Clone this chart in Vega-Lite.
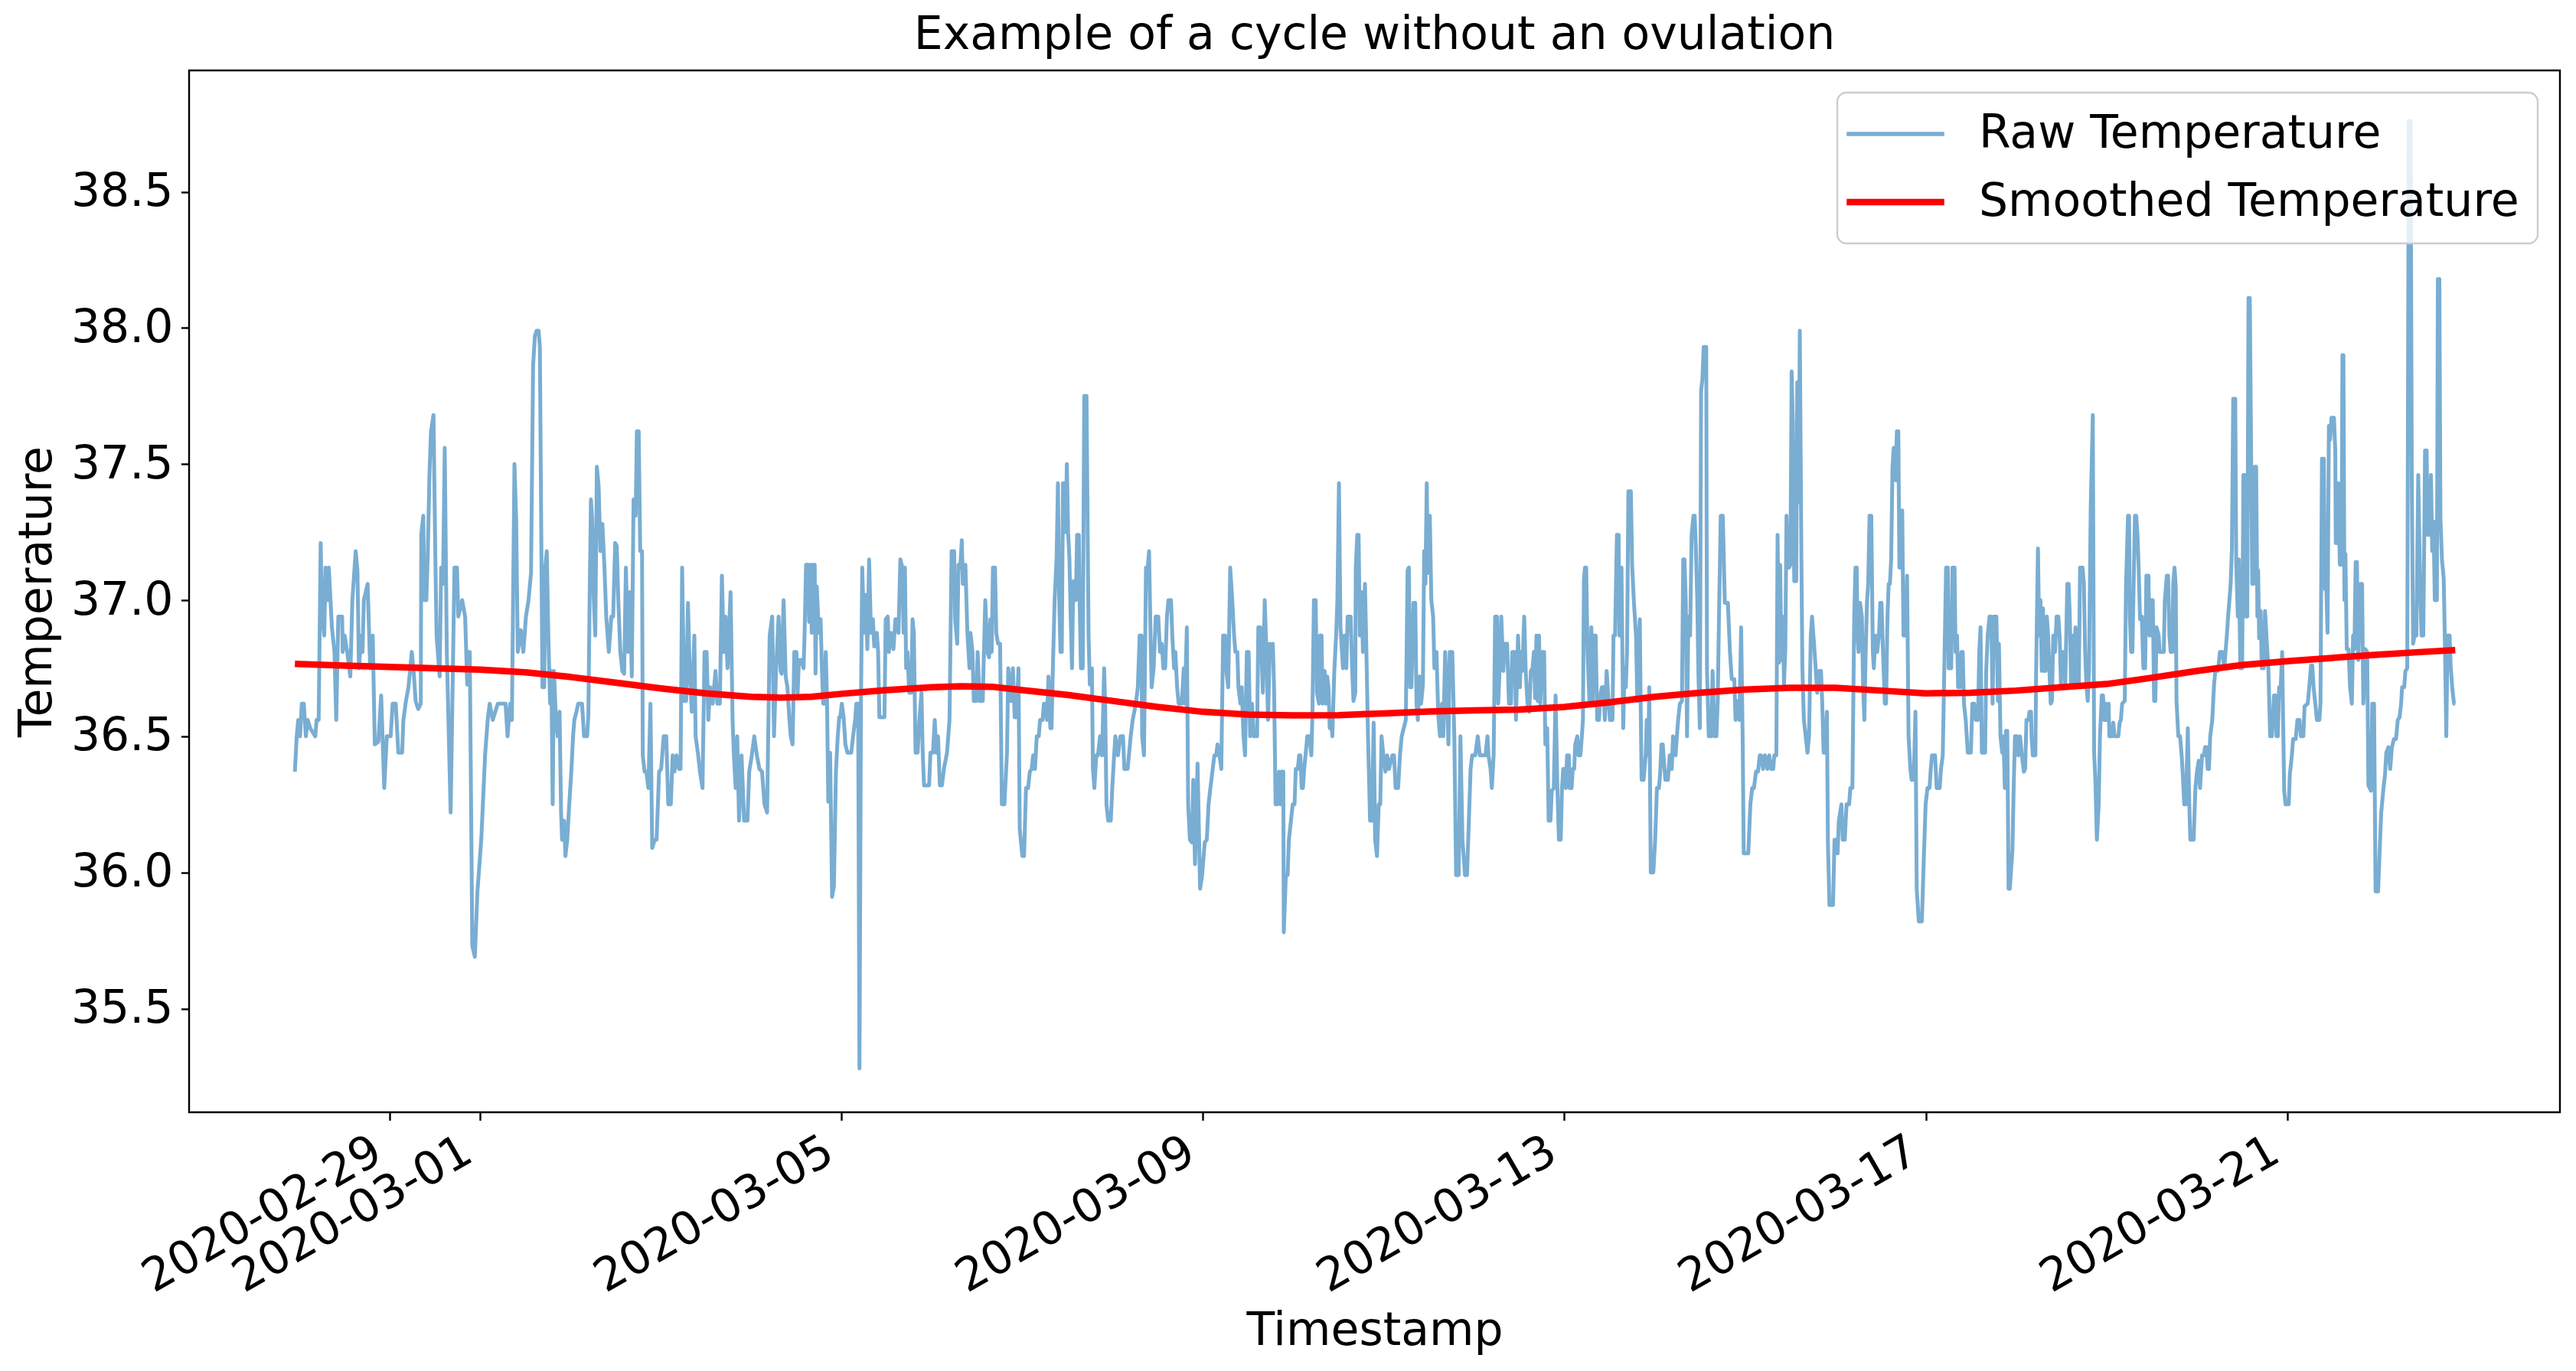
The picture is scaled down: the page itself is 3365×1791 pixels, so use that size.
{
  "$schema": "https://vega.github.io/schema/vega-lite/v6.json",
  "description": "Raw vs smoothed temperature, cycle without ovulation",
  "width": 3097,
  "height": 1361,
  "autosize": {"type": "none"},
  "padding": {"left": 247, "top": 92, "right": 21, "bottom": 338},
  "background": "white",
  "title": {
    "text": "Example of a cycle without an ovulation",
    "fontSize": 60,
    "fontWeight": "normal",
    "font": "DejaVu Sans",
    "color": "black",
    "anchor": "middle",
    "frame": "group",
    "baseline": "alphabetic",
    "offset": 32,
    "dy": 64
  },
  "datasets": {
    "raw": [
      {"t":"2020-02-27T22:52","v":36.37},{"t":"2020-02-27T23:21","v":36.50},{"t":"2020-02-27T23:45","v":36.56},
      {"t":"2020-02-28T00:14","v":36.50},{"t":"2020-02-28T00:42","v":36.62},{"t":"2020-02-28T01:14","v":36.62},
      {"t":"2020-02-28T01:47","v":36.50},{"t":"2020-02-28T02:16","v":36.56},{"t":"2020-02-28T02:56","v":36.53},
      {"t":"2020-02-28T04:17","v":36.50},{"t":"2020-02-28T04:38","v":36.56},{"t":"2020-02-28T05:11","v":36.56},
      {"t":"2020-02-28T05:43","v":37.21},{"t":"2020-02-28T06:08","v":36.94},{"t":"2020-02-28T06:40","v":36.87},
      {"t":"2020-02-28T07:01","v":37.12},{"t":"2020-02-28T07:29","v":37.00},{"t":"2020-02-28T07:53","v":37.12},
      {"t":"2020-02-28T08:42","v":36.90},{"t":"2020-02-28T09:23","v":36.81},{"t":"2020-02-28T09:51","v":36.56},
      {"t":"2020-02-28T10:24","v":36.94},{"t":"2020-02-28T11:25","v":36.94},{"t":"2020-02-28T11:33","v":36.81},
      {"t":"2020-02-28T12:05","v":36.87},{"t":"2020-02-28T12:46","v":36.81},{"t":"2020-02-28T13:35","v":36.72},
      {"t":"2020-02-28T14:08","v":37.00},{"t":"2020-02-28T15:01","v":37.18},{"t":"2020-02-28T15:29","v":37.11},
      {"t":"2020-02-28T15:53","v":36.75},{"t":"2020-02-28T16:30","v":36.87},{"t":"2020-02-28T16:50","v":36.81},
      {"t":"2020-02-28T17:11","v":37.00},{"t":"2020-02-28T18:11","v":37.06},{"t":"2020-02-28T18:52","v":36.75},
      {"t":"2020-02-28T19:33","v":36.87},{"t":"2020-02-28T20:05","v":36.47},{"t":"2020-02-28T21:02","v":36.48},
      {"t":"2020-02-28T21:47","v":36.65},{"t":"2020-02-28T22:36","v":36.31},{"t":"2020-02-28T23:17","v":36.50},
      {"t":"2020-02-29T00:18","v":36.50},{"t":"2020-02-29T00:50","v":36.62},{"t":"2020-02-29T01:39","v":36.62},
      {"t":"2020-02-29T02:20","v":36.44},{"t":"2020-02-29T03:21","v":36.44},{"t":"2020-02-29T03:41","v":36.56},
      {"t":"2020-02-29T04:22","v":36.63},{"t":"2020-02-29T05:02","v":36.68},{"t":"2020-02-29T05:55","v":36.81},
      {"t":"2020-02-29T06:24","v":36.74},{"t":"2020-02-29T06:56","v":36.63},{"t":"2020-02-29T07:37","v":36.60},
      {"t":"2020-02-29T08:18","v":36.62},{"t":"2020-02-29T08:26","v":37.24},{"t":"2020-02-29T08:58","v":37.31},
      {"t":"2020-02-29T09:15","v":37.00},{"t":"2020-02-29T09:47","v":37.00},{"t":"2020-02-29T10:11","v":37.18},
      {"t":"2020-02-29T10:36","v":37.46},{"t":"2020-02-29T11:01","v":37.62},{"t":"2020-02-29T11:41","v":37.68},
      {"t":"2020-02-29T12:10","v":37.16},{"t":"2020-02-29T12:30","v":36.87},{"t":"2020-02-29T13:19","v":36.72},
      {"t":"2020-02-29T13:43","v":37.12},{"t":"2020-02-29T14:12","v":37.06},{"t":"2020-02-29T14:40","v":37.56},
      {"t":"2020-02-29T15:13","v":36.81},{"t":"2020-02-29T16:14","v":36.22},{"t":"2020-02-29T16:34","v":36.51},
      {"t":"2020-02-29T17:15","v":37.12},{"t":"2020-02-29T17:55","v":37.12},{"t":"2020-02-29T18:16","v":36.94},
      {"t":"2020-02-29T19:17","v":37.00},{"t":"2020-02-29T20:05","v":36.94},{"t":"2020-02-29T20:38","v":36.69},
      {"t":"2020-02-29T21:19","v":36.81},{"t":"2020-02-29T21:59","v":35.73},{"t":"2020-02-29T22:40","v":35.69},
      {"t":"2020-02-29T23:21","v":35.93},{"t":"2020-03-01T00:22","v":36.12},{"t":"2020-03-01T01:23","v":36.43},
      {"t":"2020-03-01T02:04","v":36.56},{"t":"2020-03-01T02:36","v":36.62},{"t":"2020-03-01T03:25","v":36.56},
      {"t":"2020-03-01T04:46","v":36.62},{"t":"2020-03-01T06:08","v":36.62},{"t":"2020-03-01T06:49","v":36.62},
      {"t":"2020-03-01T07:21","v":36.50},{"t":"2020-03-01T08:02","v":36.62},{"t":"2020-03-01T08:30","v":36.56},
      {"t":"2020-03-01T09:11","v":37.50},{"t":"2020-03-01T09:39","v":37.29},{"t":"2020-03-01T10:04","v":36.81},
      {"t":"2020-03-01T10:52","v":36.89},{"t":"2020-03-01T11:33","v":36.81},{"t":"2020-03-01T12:14","v":36.94},
      {"t":"2020-03-01T12:55","v":37.00},{"t":"2020-03-01T13:35","v":37.10},{"t":"2020-03-01T14:08","v":37.86},
      {"t":"2020-03-01T14:36","v":37.97},{"t":"2020-03-01T15:04","v":37.99},{"t":"2020-03-01T15:36","v":37.99},
      {"t":"2020-03-01T15:56","v":37.93},{"t":"2020-03-01T16:17","v":37.28},{"t":"2020-03-01T16:37","v":36.68},
      {"t":"2020-03-01T17:05","v":36.68},{"t":"2020-03-01T17:22","v":37.12},{"t":"2020-03-01T17:46","v":37.18},
      {"t":"2020-03-01T18:11","v":36.87},{"t":"2020-03-01T18:39","v":36.62},{"t":"2020-03-01T18:59","v":36.74},
      {"t":"2020-03-01T19:20","v":36.25},{"t":"2020-03-01T19:40","v":36.74},{"t":"2020-03-01T20:13","v":36.56},
      {"t":"2020-03-01T20:41","v":36.50},{"t":"2020-03-01T21:10","v":36.59},{"t":"2020-03-01T21:34","v":36.22},
      {"t":"2020-03-01T21:50","v":36.12},{"t":"2020-03-01T22:23","v":36.19},{"t":"2020-03-01T22:43","v":36.06},
      {"t":"2020-03-01T23:12","v":36.12},{"t":"2020-03-01T23:44","v":36.25},{"t":"2020-03-02T00:17","v":36.37},
      {"t":"2020-03-02T00:45","v":36.50},{"t":"2020-03-02T01:05","v":36.56},{"t":"2020-03-02T01:38","v":36.59},
      {"t":"2020-03-02T02:07","v":36.62},{"t":"2020-03-02T03:08","v":36.62},{"t":"2020-03-02T03:40","v":36.50},
      {"t":"2020-03-02T04:29","v":36.50},{"t":"2020-03-02T04:49","v":36.58},{"t":"2020-03-02T05:10","v":37.03},
      {"t":"2020-03-02T05:30","v":37.37},{"t":"2020-03-02T05:50","v":37.29},{"t":"2020-03-02T06:11","v":37.03},
      {"t":"2020-03-02T06:39","v":36.87},{"t":"2020-03-02T07:04","v":37.49},{"t":"2020-03-02T07:32","v":37.42},
      {"t":"2020-03-02T08:01","v":37.18},{"t":"2020-03-02T08:33","v":37.28},{"t":"2020-03-02T09:05","v":37.12},
      {"t":"2020-03-02T09:34","v":36.94},{"t":"2020-03-02T10:15","v":36.81},{"t":"2020-03-02T10:55","v":36.94},
      {"t":"2020-03-02T11:24","v":36.94},{"t":"2020-03-02T11:56","v":37.21},{"t":"2020-03-02T12:21","v":37.20},
      {"t":"2020-03-02T12:46","v":37.00},{"t":"2020-03-02T13:18","v":36.81},{"t":"2020-03-02T13:50","v":36.74},
      {"t":"2020-03-02T14:19","v":36.73},{"t":"2020-03-02T14:47","v":37.12},{"t":"2020-03-02T15:20","v":36.81},
      {"t":"2020-03-02T15:52","v":37.03},{"t":"2020-03-02T16:21","v":36.72},{"t":"2020-03-02T16:49","v":37.37},
      {"t":"2020-03-02T17:22","v":37.31},{"t":"2020-03-02T17:42","v":37.62},{"t":"2020-03-02T18:11","v":37.62},
      {"t":"2020-03-02T18:35","v":37.18},{"t":"2020-03-02T19:04","v":37.18},{"t":"2020-03-02T19:16","v":36.43},
      {"t":"2020-03-02T19:44","v":36.37},{"t":"2020-03-02T20:13","v":36.37},{"t":"2020-03-02T20:45","v":36.31},
      {"t":"2020-03-02T21:18","v":36.62},{"t":"2020-03-02T21:46","v":36.09},{"t":"2020-03-02T22:27","v":36.12},
      {"t":"2020-03-02T22:56","v":36.12},{"t":"2020-03-02T23:36","v":36.37},{"t":"2020-03-03T00:09","v":36.38},
      {"t":"2020-03-03T00:49","v":36.50},{"t":"2020-03-03T01:30","v":36.50},{"t":"2020-03-03T02:02","v":36.25},
      {"t":"2020-03-03T02:43","v":36.25},{"t":"2020-03-03T03:12","v":36.43},{"t":"2020-03-03T03:40","v":36.37},
      {"t":"2020-03-03T04:13","v":36.43},{"t":"2020-03-03T04:53","v":36.38},{"t":"2020-03-03T05:18","v":36.38},
      {"t":"2020-03-03T05:43","v":37.12},{"t":"2020-03-03T06:15","v":36.63},{"t":"2020-03-03T06:47","v":36.63},
      {"t":"2020-03-03T07:16","v":36.99},{"t":"2020-03-03T07:44","v":36.74},{"t":"2020-03-03T08:17","v":36.59},
      {"t":"2020-03-03T08:58","v":36.87},{"t":"2020-03-03T09:18","v":36.50},{"t":"2020-03-03T09:59","v":36.43},
      {"t":"2020-03-03T10:27","v":36.37},{"t":"2020-03-03T11:08","v":36.31},{"t":"2020-03-03T11:40","v":36.81},
      {"t":"2020-03-03T12:13","v":36.81},{"t":"2020-03-03T12:41","v":36.56},{"t":"2020-03-03T13:10","v":36.68},
      {"t":"2020-03-03T13:50","v":36.62},{"t":"2020-03-03T14:35","v":36.74},{"t":"2020-03-03T15:04","v":36.62},
      {"t":"2020-03-03T15:44","v":36.62},{"t":"2020-03-03T16:17","v":37.09},{"t":"2020-03-03T16:46","v":36.81},
      {"t":"2020-03-03T17:14","v":36.94},{"t":"2020-03-03T17:46","v":36.75},{"t":"2020-03-03T18:35","v":37.03},
      {"t":"2020-03-03T19:08","v":36.55},{"t":"2020-03-03T19:28","v":36.43},{"t":"2020-03-03T19:56","v":36.31},
      {"t":"2020-03-03T20:21","v":36.50},{"t":"2020-03-03T20:50","v":36.19},{"t":"2020-03-03T21:30","v":36.43},
      {"t":"2020-03-03T22:11","v":36.19},{"t":"2020-03-03T23:04","v":36.19},{"t":"2020-03-03T23:32","v":36.37},
      {"t":"2020-03-04T00:13","v":36.43},{"t":"2020-03-04T00:53","v":36.50},{"t":"2020-03-04T01:34","v":36.43},
      {"t":"2020-03-04T02:15","v":36.38},{"t":"2020-03-04T02:56","v":36.37},{"t":"2020-03-04T03:36","v":36.25},
      {"t":"2020-03-04T04:17","v":36.22},{"t":"2020-03-04T04:58","v":36.87},{"t":"2020-03-04T05:38","v":36.94},
      {"t":"2020-03-04T06:07","v":36.50},{"t":"2020-03-04T06:40","v":36.74},{"t":"2020-03-04T07:20","v":36.94},
      {"t":"2020-03-04T07:53","v":36.74},{"t":"2020-03-04T08:08","v":36.73},{"t":"2020-03-04T08:40","v":37.00},
      {"t":"2020-03-04T09:13","v":36.72},{"t":"2020-03-04T09:41","v":36.68},{"t":"2020-03-04T10:10","v":36.57},
      {"t":"2020-03-04T10:34","v":36.50},{"t":"2020-03-04T11:03","v":36.47},{"t":"2020-03-04T11:31","v":36.81},
      {"t":"2020-03-04T12:04","v":36.81},{"t":"2020-03-04T12:24","v":36.66},{"t":"2020-03-04T12:44","v":36.78},
      {"t":"2020-03-04T13:25","v":36.78},{"t":"2020-03-04T13:58","v":36.75},{"t":"2020-03-04T14:14","v":36.87},
      {"t":"2020-03-04T14:38","v":37.13},{"t":"2020-03-04T15:07","v":37.13},{"t":"2020-03-04T15:27","v":36.92},
      {"t":"2020-03-04T15:47","v":37.13},{"t":"2020-03-04T16:08","v":36.88},{"t":"2020-03-04T16:28","v":37.13},
      {"t":"2020-03-04T16:56","v":37.13},{"t":"2020-03-04T17:09","v":36.73},{"t":"2020-03-04T17:29","v":37.05},
      {"t":"2020-03-04T18:02","v":36.88},{"t":"2020-03-04T18:30","v":36.93},{"t":"2020-03-04T18:50","v":36.75},
      {"t":"2020-03-04T19:11","v":36.62},{"t":"2020-03-04T19:31","v":36.62},{"t":"2020-03-04T19:52","v":36.81},
      {"t":"2020-03-04T20:12","v":36.63},{"t":"2020-03-04T20:32","v":36.26},{"t":"2020-03-04T21:01","v":36.44},
      {"t":"2020-03-04T21:33","v":35.91},{"t":"2020-03-04T22:02","v":35.95},{"t":"2020-03-04T22:34","v":36.37},
      {"t":"2020-03-04T23:03","v":36.50},{"t":"2020-03-04T23:27","v":36.57},{"t":"2020-03-04T23:43","v":36.57},
      {"t":"2020-03-05T00:08","v":36.62},{"t":"2020-03-05T00:37","v":36.57},{"t":"2020-03-05T01:05","v":36.47},
      {"t":"2020-03-05T01:37","v":36.44},{"t":"2020-03-05T02:38","v":36.44},{"t":"2020-03-05T03:07","v":36.50},
      {"t":"2020-03-05T03:40","v":36.56},{"t":"2020-03-05T03:59","v":36.62},{"t":"2020-03-05T04:28","v":36.62},
      {"t":"2020-03-05T04:49","v":35.28},{"t":"2020-03-05T05:13","v":36.62},{"t":"2020-03-05T05:33","v":37.12},
      {"t":"2020-03-05T06:02","v":36.88},{"t":"2020-03-05T06:30","v":37.02},{"t":"2020-03-05T06:55","v":36.82},
      {"t":"2020-03-05T07:23","v":37.15},{"t":"2020-03-05T07:52","v":36.88},{"t":"2020-03-05T08:24","v":36.93},
      {"t":"2020-03-05T08:44","v":36.83},{"t":"2020-03-05T09:25","v":36.88},{"t":"2020-03-05T09:46","v":36.81},
      {"t":"2020-03-05T10:06","v":36.57},{"t":"2020-03-05T10:47","v":36.57},{"t":"2020-03-05T11:27","v":36.57},
      {"t":"2020-03-05T11:47","v":36.93},{"t":"2020-03-05T12:20","v":36.94},{"t":"2020-03-05T12:37","v":36.81},
      {"t":"2020-03-05T13:09","v":36.88},{"t":"2020-03-05T13:50","v":36.82},{"t":"2020-03-05T14:22","v":36.93},
      {"t":"2020-03-05T14:50","v":36.93},{"t":"2020-03-05T15:11","v":36.88},{"t":"2020-03-05T15:40","v":37.15},
      {"t":"2020-03-05T16:12","v":37.12},{"t":"2020-03-05T16:32","v":36.88},{"t":"2020-03-05T16:53","v":37.12},
      {"t":"2020-03-05T17:13","v":36.75},{"t":"2020-03-05T17:34","v":36.81},{"t":"2020-03-05T18:02","v":36.66},
      {"t":"2020-03-05T18:34","v":36.66},{"t":"2020-03-05T18:55","v":36.93},{"t":"2020-03-05T19:15","v":36.88},
      {"t":"2020-03-05T19:43","v":36.44},{"t":"2020-03-05T20:16","v":36.44},{"t":"2020-03-05T20:44","v":36.56},
      {"t":"2020-03-05T21:17","v":36.66},{"t":"2020-03-05T21:37","v":36.44},{"t":"2020-03-05T21:58","v":36.32},
      {"t":"2020-03-05T22:38","v":36.32},{"t":"2020-03-05T23:19","v":36.32},{"t":"2020-03-05T23:40","v":36.44},
      {"t":"2020-03-06T00:20","v":36.44},{"t":"2020-03-06T00:49","v":36.56},{"t":"2020-03-06T01:13","v":36.44},
      {"t":"2020-03-06T01:41","v":36.50},{"t":"2020-03-06T02:10","v":36.32},{"t":"2020-03-06T02:43","v":36.32},
      {"t":"2020-03-06T03:15","v":36.38},{"t":"2020-03-06T04:04","v":36.44},{"t":"2020-03-06T04:44","v":36.56},
      {"t":"2020-03-06T05:17","v":37.18},{"t":"2020-03-06T05:58","v":37.18},{"t":"2020-03-06T06:14","v":36.93},
      {"t":"2020-03-06T06:47","v":36.84},{"t":"2020-03-06T07:07","v":37.13},{"t":"2020-03-06T07:35","v":37.12},
      {"t":"2020-03-06T08:00","v":37.22},{"t":"2020-03-06T08:16","v":37.06},{"t":"2020-03-06T08:57","v":37.13},
      {"t":"2020-03-06T09:29","v":36.88},{"t":"2020-03-06T10:02","v":36.75},{"t":"2020-03-06T10:18","v":36.88},
      {"t":"2020-03-06T10:50","v":36.81},{"t":"2020-03-06T11:11","v":36.63},{"t":"2020-03-06T11:52","v":36.63},
      {"t":"2020-03-06T12:12","v":36.81},{"t":"2020-03-06T12:44","v":36.63},{"t":"2020-03-06T13:34","v":36.63},
      {"t":"2020-03-06T13:46","v":36.75},{"t":"2020-03-06T14:14","v":37.00},{"t":"2020-03-06T14:47","v":36.81},
      {"t":"2020-03-06T15:15","v":36.79},{"t":"2020-03-06T15:35","v":36.93},{"t":"2020-03-06T15:56","v":36.81},
      {"t":"2020-03-06T16:16","v":37.12},{"t":"2020-03-06T16:49","v":37.12},{"t":"2020-03-06T17:09","v":36.88},
      {"t":"2020-03-06T17:37","v":36.84},{"t":"2020-03-06T18:10","v":36.84},{"t":"2020-03-06T18:38","v":36.25},
      {"t":"2020-03-06T19:19","v":36.25},{"t":"2020-03-06T20:00","v":36.44},{"t":"2020-03-06T20:20","v":36.75},
      {"t":"2020-03-06T21:01","v":36.63},{"t":"2020-03-06T21:34","v":36.75},{"t":"2020-03-06T22:02","v":36.57},
      {"t":"2020-03-06T22:31","v":36.57},{"t":"2020-03-06T23:03","v":36.75},{"t":"2020-03-06T23:23","v":36.16},
      {"t":"2020-03-07T00:04","v":36.06},{"t":"2020-03-07T00:32","v":36.06},{"t":"2020-03-07T01:03","v":36.31},
      {"t":"2020-03-07T01:36","v":36.31},{"t":"2020-03-07T02:04","v":36.37},{"t":"2020-03-07T02:33","v":36.38},
      {"t":"2020-03-07T02:57","v":36.43},{"t":"2020-03-07T03:26","v":36.38},{"t":"2020-03-07T03:54","v":36.50},
      {"t":"2020-03-07T04:26","v":36.50},{"t":"2020-03-07T04:47","v":36.56},{"t":"2020-03-07T05:28","v":36.56},
      {"t":"2020-03-07T05:48","v":36.62},{"t":"2020-03-07T06:20","v":36.62},{"t":"2020-03-07T06:37","v":36.56},
      {"t":"2020-03-07T07:01","v":36.72},{"t":"2020-03-07T07:30","v":36.53},{"t":"2020-03-07T07:50","v":36.53},
      {"t":"2020-03-07T08:10","v":36.74},{"t":"2020-03-07T08:39","v":37.00},{"t":"2020-03-07T09:11","v":37.16},
      {"t":"2020-03-07T09:32","v":37.43},{"t":"2020-03-07T09:52","v":37.00},{"t":"2020-03-07T10:13","v":36.81},
      {"t":"2020-03-07T10:33","v":36.81},{"t":"2020-03-07T10:53","v":37.43},{"t":"2020-03-07T11:13","v":37.43},
      {"t":"2020-03-07T11:34","v":37.25},{"t":"2020-03-07T11:54","v":37.50},{"t":"2020-03-07T12:14","v":37.25},
      {"t":"2020-03-07T12:35","v":37.15},{"t":"2020-03-07T12:55","v":36.94},{"t":"2020-03-07T13:16","v":36.75},
      {"t":"2020-03-07T13:36","v":37.07},{"t":"2020-03-07T13:56","v":37.07},{"t":"2020-03-07T14:17","v":37.00},
      {"t":"2020-03-07T14:37","v":37.24},{"t":"2020-03-07T15:05","v":37.24},{"t":"2020-03-07T15:17","v":37.00},
      {"t":"2020-03-07T15:38","v":36.75},{"t":"2020-03-07T16:07","v":36.75},{"t":"2020-03-07T16:31","v":37.75},
      {"t":"2020-03-07T17:07","v":37.75},{"t":"2020-03-07T17:40","v":36.87},{"t":"2020-03-07T18:00","v":36.69},
      {"t":"2020-03-07T18:33","v":36.75},{"t":"2020-03-07T18:49","v":36.38},{"t":"2020-03-07T19:13","v":36.31},
      {"t":"2020-03-07T19:42","v":36.43},{"t":"2020-03-07T20:10","v":36.43},{"t":"2020-03-07T20:43","v":36.50},
      {"t":"2020-03-07T21:16","v":36.43},{"t":"2020-03-07T21:48","v":36.75},{"t":"2020-03-07T22:04","v":36.62},
      {"t":"2020-03-07T22:25","v":36.25},{"t":"2020-03-07T22:53","v":36.19},{"t":"2020-03-07T23:34","v":36.19},
      {"t":"2020-03-07T23:58","v":36.31},{"t":"2020-03-08T00:27","v":36.43},{"t":"2020-03-08T00:47","v":36.50},
      {"t":"2020-03-08T01:28","v":36.43},{"t":"2020-03-08T02:08","v":36.50},{"t":"2020-03-08T02:49","v":36.50},
      {"t":"2020-03-08T03:10","v":36.38},{"t":"2020-03-08T04:02","v":36.38},{"t":"2020-03-08T04:23","v":36.43},
      {"t":"2020-03-08T04:51","v":36.50},{"t":"2020-03-08T05:23","v":36.56},{"t":"2020-03-08T06:13","v":36.62},
      {"t":"2020-03-08T06:45","v":36.68},{"t":"2020-03-08T07:14","v":36.87},{"t":"2020-03-08T07:42","v":36.87},
      {"t":"2020-03-08T07:54","v":36.50},{"t":"2020-03-08T08:23","v":36.43},{"t":"2020-03-08T08:55","v":37.12},
      {"t":"2020-03-08T09:23","v":37.12},{"t":"2020-03-08T09:44","v":37.18},{"t":"2020-03-08T10:08","v":36.87},
      {"t":"2020-03-08T10:25","v":36.68},{"t":"2020-03-08T10:57","v":36.75},{"t":"2020-03-08T11:30","v":36.94},
      {"t":"2020-03-08T12:10","v":36.94},{"t":"2020-03-08T12:39","v":36.81},{"t":"2020-03-08T13:07","v":36.84},
      {"t":"2020-03-08T13:32","v":36.75},{"t":"2020-03-08T14:01","v":36.75},{"t":"2020-03-08T14:29","v":36.94},
      {"t":"2020-03-08T14:53","v":37.00},{"t":"2020-03-08T15:34","v":37.00},{"t":"2020-03-08T15:54","v":36.87},
      {"t":"2020-03-08T16:23","v":36.75},{"t":"2020-03-08T16:43","v":36.81},{"t":"2020-03-08T17:11","v":36.68},
      {"t":"2020-03-08T17:36","v":36.62},{"t":"2020-03-08T18:25","v":36.62},{"t":"2020-03-08T18:57","v":36.75},
      {"t":"2020-03-08T19:14","v":36.62},{"t":"2020-03-08T19:46","v":36.90},{"t":"2020-03-08T20:07","v":36.25},
      {"t":"2020-03-08T20:35","v":36.12},{"t":"2020-03-08T21:07","v":36.11},{"t":"2020-03-08T21:28","v":36.34},
      {"t":"2020-03-08T21:56","v":36.03},{"t":"2020-03-08T22:37","v":36.40},{"t":"2020-03-08T23:17","v":35.94},
      {"t":"2020-03-08T23:50","v":35.99},{"t":"2020-03-09T00:31","v":36.11},{"t":"2020-03-09T01:04","v":36.12},
      {"t":"2020-03-09T01:32","v":36.25},{"t":"2020-03-09T02:01","v":36.31},{"t":"2020-03-09T02:33","v":36.37},
      {"t":"2020-03-09T03:05","v":36.43},{"t":"2020-03-09T03:34","v":36.43},{"t":"2020-03-09T03:54","v":36.47},
      {"t":"2020-03-09T04:27","v":36.43},{"t":"2020-03-09T04:55","v":36.38},{"t":"2020-03-09T05:24","v":36.87},
      {"t":"2020-03-09T05:56","v":36.87},{"t":"2020-03-09T06:17","v":36.74},{"t":"2020-03-09T06:45","v":36.68},
      {"t":"2020-03-09T07:17","v":37.12},{"t":"2020-03-09T07:50","v":37.00},{"t":"2020-03-09T08:19","v":36.87},
      {"t":"2020-03-09T08:39","v":36.81},{"t":"2020-03-09T09:11","v":36.81},{"t":"2020-03-09T09:28","v":36.68},
      {"t":"2020-03-09T10:01","v":36.62},{"t":"2020-03-09T10:21","v":36.68},{"t":"2020-03-09T10:49","v":36.50},
      {"t":"2020-03-09T11:14","v":36.43},{"t":"2020-03-09T11:42","v":36.81},{"t":"2020-03-09T12:11","v":36.81},
      {"t":"2020-03-09T12:35","v":36.50},{"t":"2020-03-09T13:04","v":36.62},{"t":"2020-03-09T13:32","v":36.50},
      {"t":"2020-03-09T14:25","v":36.50},{"t":"2020-03-09T14:45","v":36.90},{"t":"2020-03-09T15:17","v":36.90},
      {"t":"2020-03-09T15:34","v":36.81},{"t":"2020-03-09T15:58","v":36.66},{"t":"2020-03-09T16:27","v":37.00},
      {"t":"2020-03-09T16:55","v":36.81},{"t":"2020-03-09T17:20","v":36.56},{"t":"2020-03-09T17:48","v":36.84},
      {"t":"2020-03-09T18:07","v":36.81},{"t":"2020-03-09T18:36","v":36.84},{"t":"2020-03-09T18:56","v":36.68},
      {"t":"2020-03-09T19:20","v":36.25},{"t":"2020-03-09T19:49","v":36.25},{"t":"2020-03-09T20:17","v":36.37},
      {"t":"2020-03-09T20:42","v":36.25},{"t":"2020-03-09T20:58","v":36.37},{"t":"2020-03-09T21:23","v":36.37},
      {"t":"2020-03-09T21:31","v":35.78},{"t":"2020-03-09T22:04","v":35.99},{"t":"2020-03-09T22:32","v":35.99},
      {"t":"2020-03-09T22:52","v":36.12},{"t":"2020-03-09T23:25","v":36.19},{"t":"2020-03-09T23:53","v":36.25},
      {"t":"2020-03-10T00:22","v":36.25},{"t":"2020-03-10T00:42","v":36.38},{"t":"2020-03-10T01:14","v":36.38},
      {"t":"2020-03-10T01:35","v":36.43},{"t":"2020-03-10T01:55","v":36.43},{"t":"2020-03-10T02:16","v":36.31},
      {"t":"2020-03-10T02:36","v":36.31},{"t":"2020-03-10T02:56","v":36.38},{"t":"2020-03-10T03:17","v":36.43},
      {"t":"2020-03-10T03:45","v":36.50},{"t":"2020-03-10T04:17","v":36.50},{"t":"2020-03-10T04:50","v":36.43},
      {"t":"2020-03-10T05:07","v":36.58},{"t":"2020-03-10T05:31","v":37.00},{"t":"2020-03-10T05:59","v":37.00},
      {"t":"2020-03-10T06:20","v":36.66},{"t":"2020-03-10T06:52","v":36.62},{"t":"2020-03-10T07:08","v":36.87},
      {"t":"2020-03-10T07:33","v":36.87},{"t":"2020-03-10T07:49","v":36.62},{"t":"2020-03-10T08:22","v":36.74},
      {"t":"2020-03-10T08:42","v":36.62},{"t":"2020-03-10T09:02","v":36.72},{"t":"2020-03-10T09:23","v":36.68},
      {"t":"2020-03-10T09:43","v":36.53},{"t":"2020-03-10T10:04","v":36.58},{"t":"2020-03-10T10:24","v":36.50},
      {"t":"2020-03-10T10:56","v":36.74},{"t":"2020-03-10T11:25","v":36.87},{"t":"2020-03-10T11:45","v":37.00},
      {"t":"2020-03-10T12:10","v":37.43},{"t":"2020-03-10T12:34","v":36.90},{"t":"2020-03-10T12:58","v":36.81},
      {"t":"2020-03-10T13:14","v":36.75},{"t":"2020-03-10T13:39","v":36.87},{"t":"2020-03-10T14:08","v":36.75},
      {"t":"2020-03-10T14:28","v":36.94},{"t":"2020-03-10T15:17","v":36.94},{"t":"2020-03-10T15:41","v":36.74},
      {"t":"2020-03-10T16:01","v":36.63},{"t":"2020-03-10T16:30","v":36.66},{"t":"2020-03-10T16:38","v":37.12},
      {"t":"2020-03-10T17:02","v":37.24},{"t":"2020-03-10T17:23","v":37.24},{"t":"2020-03-10T17:43","v":36.87},
      {"t":"2020-03-10T18:11","v":37.03},{"t":"2020-03-10T18:32","v":36.81},{"t":"2020-03-10T19:04","v":37.06},
      {"t":"2020-03-10T19:25","v":36.84},{"t":"2020-03-10T19:53","v":36.50},{"t":"2020-03-10T20:26","v":36.19},
      {"t":"2020-03-10T20:55","v":36.19},{"t":"2020-03-10T21:23","v":36.55},{"t":"2020-03-10T21:47","v":36.12},
      {"t":"2020-03-10T22:16","v":36.06},{"t":"2020-03-10T22:44","v":36.25},{"t":"2020-03-10T23:08","v":36.25},
      {"t":"2020-03-10T23:29","v":36.50},{"t":"2020-03-10T23:58","v":36.43},{"t":"2020-03-11T00:30","v":36.37},
      {"t":"2020-03-11T00:58","v":36.43},{"t":"2020-03-11T01:27","v":36.38},{"t":"2020-03-11T02:20","v":36.43},
      {"t":"2020-03-11T02:48","v":36.43},{"t":"2020-03-11T03:13","v":36.31},{"t":"2020-03-11T03:53","v":36.31},
      {"t":"2020-03-11T04:22","v":36.43},{"t":"2020-03-11T04:50","v":36.50},{"t":"2020-03-11T05:23","v":36.53},
      {"t":"2020-03-11T05:55","v":36.56},{"t":"2020-03-11T06:24","v":37.11},{"t":"2020-03-11T06:44","v":37.12},
      {"t":"2020-03-11T07:05","v":36.68},{"t":"2020-03-11T07:25","v":36.68},{"t":"2020-03-11T07:58","v":36.99},
      {"t":"2020-03-11T08:26","v":36.99},{"t":"2020-03-11T08:46","v":36.62},{"t":"2020-03-11T09:07","v":36.56},
      {"t":"2020-03-11T09:35","v":36.72},{"t":"2020-03-11T09:59","v":36.62},{"t":"2020-03-11T10:28","v":36.69},
      {"t":"2020-03-11T10:48","v":37.18},{"t":"2020-03-11T11:08","v":37.06},{"t":"2020-03-11T11:29","v":37.43},
      {"t":"2020-03-11T11:49","v":37.10},{"t":"2020-03-11T12:18","v":37.31},{"t":"2020-03-11T12:42","v":37.00},
      {"t":"2020-03-11T13:11","v":36.94},{"t":"2020-03-11T13:31","v":36.75},{"t":"2020-03-11T14:04","v":36.81},
      {"t":"2020-03-11T14:32","v":36.58},{"t":"2020-03-11T15:01","v":36.50},{"t":"2020-03-11T15:33","v":36.62},
      {"t":"2020-03-11T15:53","v":36.50},{"t":"2020-03-11T16:22","v":36.81},{"t":"2020-03-11T16:46","v":36.68},
      {"t":"2020-03-11T17:15","v":36.47},{"t":"2020-03-11T17:35","v":36.81},{"t":"2020-03-11T18:16","v":36.81},
      {"t":"2020-03-11T18:48","v":36.50},{"t":"2020-03-11T19:17","v":35.99},{"t":"2020-03-11T19:58","v":35.99},
      {"t":"2020-03-11T20:26","v":36.50},{"t":"2020-03-11T20:58","v":36.12},{"t":"2020-03-11T21:39","v":35.99},
      {"t":"2020-03-11T22:11","v":35.99},{"t":"2020-03-11T22:40","v":36.19},{"t":"2020-03-11T23:08","v":36.38},
      {"t":"2020-03-11T23:33","v":36.43},{"t":"2020-03-12T00:22","v":36.43},{"t":"2020-03-12T01:02","v":36.50},
      {"t":"2020-03-12T01:35","v":36.43},{"t":"2020-03-12T02:24","v":36.43},{"t":"2020-03-12T03:05","v":36.43},
      {"t":"2020-03-12T03:37","v":36.50},{"t":"2020-03-12T03:53","v":36.43},{"t":"2020-03-12T04:26","v":36.38},
      {"t":"2020-03-12T04:46","v":36.31},{"t":"2020-03-12T05:15","v":36.43},{"t":"2020-03-12T05:39","v":36.94},
      {"t":"2020-03-12T06:08","v":36.94},{"t":"2020-03-12T06:28","v":36.62},{"t":"2020-03-12T06:49","v":36.74},
      {"t":"2020-03-12T07:17","v":36.94},{"t":"2020-03-12T07:49","v":36.74},{"t":"2020-03-12T08:10","v":36.84},
      {"t":"2020-03-12T08:50","v":36.84},{"t":"2020-03-12T09:19","v":36.62},{"t":"2020-03-12T09:52","v":36.62},
      {"t":"2020-03-12T10:12","v":36.81},{"t":"2020-03-12T10:52","v":36.81},{"t":"2020-03-12T11:11","v":36.56},
      {"t":"2020-03-12T11:44","v":36.87},{"t":"2020-03-12T12:13","v":36.68},{"t":"2020-03-12T12:33","v":36.81},
      {"t":"2020-03-12T12:53","v":36.74},{"t":"2020-03-12T13:22","v":36.94},{"t":"2020-03-12T13:46","v":36.74},
      {"t":"2020-03-12T14:15","v":36.62},{"t":"2020-03-12T14:43","v":36.59},{"t":"2020-03-12T15:08","v":36.74},
      {"t":"2020-03-12T15:36","v":36.75},{"t":"2020-03-12T15:56","v":36.81},{"t":"2020-03-12T16:17","v":36.64},
      {"t":"2020-03-12T16:37","v":36.87},{"t":"2020-03-12T16:58","v":36.63},{"t":"2020-03-12T17:18","v":36.87},
      {"t":"2020-03-12T17:38","v":36.62},{"t":"2020-03-12T18:07","v":36.81},{"t":"2020-03-12T18:39","v":36.81},
      {"t":"2020-03-12T18:59","v":36.47},{"t":"2020-03-12T19:28","v":36.53},{"t":"2020-03-12T19:52","v":36.19},
      {"t":"2020-03-12T20:21","v":36.19},{"t":"2020-03-12T20:41","v":36.30},{"t":"2020-03-12T21:14","v":36.31},
      {"t":"2020-03-12T21:42","v":36.65},{"t":"2020-03-12T22:11","v":36.31},{"t":"2020-03-12T22:35","v":36.12},
      {"t":"2020-03-12T23:04","v":36.12},{"t":"2020-03-12T23:24","v":36.31},{"t":"2020-03-12T23:44","v":36.38},
      {"t":"2020-03-13T00:13","v":36.38},{"t":"2020-03-13T00:25","v":36.31},{"t":"2020-03-13T00:45","v":36.43},
      {"t":"2020-03-13T01:14","v":36.43},{"t":"2020-03-13T01:26","v":36.31},{"t":"2020-03-13T01:58","v":36.31},
      {"t":"2020-03-13T02:15","v":36.38},{"t":"2020-03-13T02:39","v":36.38},{"t":"2020-03-13T02:55","v":36.47},
      {"t":"2020-03-13T03:28","v":36.50},{"t":"2020-03-13T03:49","v":36.43},{"t":"2020-03-13T04:17","v":36.43},
      {"t":"2020-03-13T04:41","v":36.50},{"t":"2020-03-13T04:58","v":36.56},{"t":"2020-03-13T05:14","v":37.08},
      {"t":"2020-03-13T05:30","v":37.12},{"t":"2020-03-13T05:50","v":37.12},{"t":"2020-03-13T06:11","v":36.81},
      {"t":"2020-03-13T06:43","v":36.62},{"t":"2020-03-13T07:12","v":36.90},{"t":"2020-03-13T07:32","v":36.62},
      {"t":"2020-03-13T07:52","v":36.87},{"t":"2020-03-13T08:21","v":36.87},{"t":"2020-03-13T08:45","v":36.56},
      {"t":"2020-03-13T09:14","v":36.56},{"t":"2020-03-13T09:34","v":36.65},{"t":"2020-03-13T09:58","v":36.68},
      {"t":"2020-03-13T10:23","v":36.68},{"t":"2020-03-13T10:47","v":36.56},{"t":"2020-03-13T11:16","v":36.74},
      {"t":"2020-03-13T11:44","v":36.64},{"t":"2020-03-13T12:08","v":36.56},{"t":"2020-03-13T12:49","v":36.56},
      {"t":"2020-03-13T13:05","v":36.87},{"t":"2020-03-13T13:30","v":36.87},{"t":"2020-03-13T13:59","v":37.24},
      {"t":"2020-03-13T14:27","v":37.24},{"t":"2020-03-13T14:39","v":36.87},{"t":"2020-03-13T14:52","v":37.12},
      {"t":"2020-03-13T15:12","v":37.12},{"t":"2020-03-13T15:40","v":36.53},{"t":"2020-03-13T16:01","v":36.75},
      {"t":"2020-03-13T16:21","v":36.68},{"t":"2020-03-13T16:41","v":36.81},{"t":"2020-03-13T17:02","v":37.40},
      {"t":"2020-03-13T17:42","v":37.40},{"t":"2020-03-13T18:02","v":37.13},{"t":"2020-03-13T18:31","v":36.99},
      {"t":"2020-03-13T19:04","v":36.87},{"t":"2020-03-13T19:24","v":36.63},{"t":"2020-03-13T19:44","v":36.81},
      {"t":"2020-03-13T20:05","v":36.93},{"t":"2020-03-13T20:17","v":36.63},{"t":"2020-03-13T20:33","v":36.34},
      {"t":"2020-03-13T21:05","v":36.34},{"t":"2020-03-13T21:38","v":36.43},{"t":"2020-03-13T21:55","v":36.56},
      {"t":"2020-03-13T22:19","v":36.43},{"t":"2020-03-13T22:35","v":36.68},{"t":"2020-03-13T22:59","v":36.00},
      {"t":"2020-03-13T23:40","v":36.00},{"t":"2020-03-14T00:09","v":36.12},{"t":"2020-03-14T00:37","v":36.31},
      {"t":"2020-03-14T01:10","v":36.31},{"t":"2020-03-14T01:30","v":36.37},{"t":"2020-03-14T01:50","v":36.47},
      {"t":"2020-03-14T02:11","v":36.47},{"t":"2020-03-14T02:31","v":36.40},{"t":"2020-03-14T02:52","v":36.34},
      {"t":"2020-03-14T03:32","v":36.34},{"t":"2020-03-14T04:01","v":36.43},{"t":"2020-03-14T04:33","v":36.38},
      {"t":"2020-03-14T04:53","v":36.50},{"t":"2020-03-14T05:34","v":36.43},{"t":"2020-03-14T05:55","v":36.50},
      {"t":"2020-03-14T06:15","v":36.56},{"t":"2020-03-14T06:43","v":36.62},{"t":"2020-03-14T07:16","v":36.63},
      {"t":"2020-03-14T07:36","v":37.15},{"t":"2020-03-14T07:56","v":37.15},{"t":"2020-03-14T08:17","v":37.00},
      {"t":"2020-03-14T08:37","v":36.50},{"t":"2020-03-14T08:58","v":36.94},{"t":"2020-03-14T09:26","v":36.87},
      {"t":"2020-03-14T09:50","v":37.24},{"t":"2020-03-14T10:19","v":37.31},{"t":"2020-03-14T10:39","v":37.31},
      {"t":"2020-03-14T10:59","v":37.18},{"t":"2020-03-14T11:20","v":37.00},{"t":"2020-03-14T11:40","v":36.71},
      {"t":"2020-03-14T12:01","v":36.53},{"t":"2020-03-14T12:21","v":37.77},{"t":"2020-03-14T12:41","v":37.81},
      {"t":"2020-03-14T13:02","v":37.93},{"t":"2020-03-14T13:43","v":37.93},{"t":"2020-03-14T13:55","v":36.74},
      {"t":"2020-03-14T14:23","v":36.50},{"t":"2020-03-14T15:04","v":36.50},{"t":"2020-03-14T15:24","v":36.74},
      {"t":"2020-03-14T15:56","v":36.50},{"t":"2020-03-14T16:25","v":36.50},{"t":"2020-03-14T16:46","v":36.63},
      {"t":"2020-03-14T17:06","v":36.94},{"t":"2020-03-14T17:34","v":37.31},{"t":"2020-03-14T18:07","v":37.31},
      {"t":"2020-03-14T18:39","v":36.99},{"t":"2020-03-14T19:28","v":36.99},{"t":"2020-03-14T20:01","v":36.81},
      {"t":"2020-03-14T20:29","v":36.71},{"t":"2020-03-14T21:10","v":36.71},{"t":"2020-03-14T21:30","v":36.56},
      {"t":"2020-03-14T22:02","v":36.63},{"t":"2020-03-14T22:31","v":36.56},{"t":"2020-03-14T22:59","v":36.90},
      {"t":"2020-03-14T23:24","v":36.48},{"t":"2020-03-14T23:40","v":36.07},{"t":"2020-03-15T00:53","v":36.07},
      {"t":"2020-03-15T01:26","v":36.25},{"t":"2020-03-15T01:55","v":36.31},{"t":"2020-03-15T02:23","v":36.31},
      {"t":"2020-03-15T02:56","v":36.37},{"t":"2020-03-15T03:28","v":36.37},{"t":"2020-03-15T03:56","v":36.43},
      {"t":"2020-03-15T04:16","v":36.43},{"t":"2020-03-15T04:49","v":36.38},{"t":"2020-03-15T05:17","v":36.43},
      {"t":"2020-03-15T05:58","v":36.38},{"t":"2020-03-15T06:26","v":36.43},{"t":"2020-03-15T06:59","v":36.38},
      {"t":"2020-03-15T07:31","v":36.38},{"t":"2020-03-15T07:47","v":36.43},{"t":"2020-03-15T08:20","v":36.43},
      {"t":"2020-03-15T08:40","v":37.24},{"t":"2020-03-15T09:01","v":36.77},{"t":"2020-03-15T09:21","v":37.13},
      {"t":"2020-03-15T09:41","v":36.78},{"t":"2020-03-15T10:02","v":36.94},{"t":"2020-03-15T10:22","v":36.69},
      {"t":"2020-03-15T10:43","v":36.82},{"t":"2020-03-15T11:02","v":37.31},{"t":"2020-03-15T11:23","v":37.12},
      {"t":"2020-03-15T11:43","v":37.12},{"t":"2020-03-15T12:04","v":37.13},{"t":"2020-03-15T12:24","v":37.84},
      {"t":"2020-03-15T12:44","v":37.65},{"t":"2020-03-15T13:05","v":37.07},{"t":"2020-03-15T13:37","v":37.07},
      {"t":"2020-03-15T13:53","v":37.80},{"t":"2020-03-15T14:18","v":37.36},{"t":"2020-03-15T14:34","v":37.99},
      {"t":"2020-03-15T14:59","v":37.16},{"t":"2020-03-15T15:15","v":36.75},{"t":"2020-03-15T15:39","v":36.56},
      {"t":"2020-03-15T16:08","v":36.50},{"t":"2020-03-15T16:36","v":36.44},{"t":"2020-03-15T17:01","v":36.50},
      {"t":"2020-03-15T17:29","v":36.87},{"t":"2020-03-15T17:49","v":36.94},{"t":"2020-03-15T18:30","v":36.81},
      {"t":"2020-03-15T19:11","v":36.66},{"t":"2020-03-15T19:43","v":36.74},{"t":"2020-03-15T20:12","v":36.74},
      {"t":"2020-03-15T20:32","v":36.62},{"t":"2020-03-15T20:53","v":36.44},{"t":"2020-03-15T21:21","v":36.44},
      {"t":"2020-03-15T21:46","v":36.59},{"t":"2020-03-15T22:02","v":36.11},{"t":"2020-03-15T22:26","v":35.88},
      {"t":"2020-03-15T23:23","v":35.88},{"t":"2020-03-15T23:47","v":36.12},{"t":"2020-03-16T00:16","v":36.12},
      {"t":"2020-03-16T00:36","v":36.07},{"t":"2020-03-16T00:56","v":36.19},{"t":"2020-03-16T01:37","v":36.25},
      {"t":"2020-03-16T01:58","v":36.12},{"t":"2020-03-16T02:30","v":36.12},{"t":"2020-03-16T02:59","v":36.25},
      {"t":"2020-03-16T03:40","v":36.25},{"t":"2020-03-16T03:59","v":36.31},{"t":"2020-03-16T04:32","v":36.31},
      {"t":"2020-03-16T05:01","v":36.94},{"t":"2020-03-16T05:21","v":37.12},{"t":"2020-03-16T05:41","v":37.12},
      {"t":"2020-03-16T05:53","v":36.87},{"t":"2020-03-16T06:10","v":36.81},{"t":"2020-03-16T06:34","v":36.99},
      {"t":"2020-03-16T07:03","v":36.94},{"t":"2020-03-16T07:23","v":36.68},{"t":"2020-03-16T07:43","v":36.56},
      {"t":"2020-03-16T08:04","v":36.81},{"t":"2020-03-16T08:24","v":36.99},{"t":"2020-03-16T08:44","v":37.06},
      {"t":"2020-03-16T09:05","v":37.31},{"t":"2020-03-16T09:33","v":37.31},{"t":"2020-03-16T09:58","v":36.81},
      {"t":"2020-03-16T10:14","v":36.75},{"t":"2020-03-16T10:38","v":36.87},{"t":"2020-03-16T11:07","v":36.81},
      {"t":"2020-03-16T11:35","v":36.87},{"t":"2020-03-16T11:56","v":36.99},{"t":"2020-03-16T12:16","v":36.99},
      {"t":"2020-03-16T12:40","v":36.81},{"t":"2020-03-16T13:09","v":36.62},{"t":"2020-03-16T13:29","v":36.62},
      {"t":"2020-03-16T13:50","v":36.93},{"t":"2020-03-16T14:10","v":37.06},{"t":"2020-03-16T14:30","v":37.06},
      {"t":"2020-03-16T14:50","v":37.15},{"t":"2020-03-16T15:11","v":37.49},{"t":"2020-03-16T15:31","v":37.56},
      {"t":"2020-03-16T15:52","v":37.56},{"t":"2020-03-16T16:04","v":37.44},{"t":"2020-03-16T16:20","v":37.62},
      {"t":"2020-03-16T16:44","v":37.62},{"t":"2020-03-16T17:01","v":37.12},{"t":"2020-03-16T17:33","v":37.12},
      {"t":"2020-03-16T17:46","v":37.33},{"t":"2020-03-16T18:06","v":36.87},{"t":"2020-03-16T18:22","v":36.90},
      {"t":"2020-03-16T18:46","v":36.87},{"t":"2020-03-16T19:03","v":37.09},{"t":"2020-03-16T19:27","v":36.50},
      {"t":"2020-03-16T19:56","v":36.38},{"t":"2020-03-16T20:16","v":36.34},{"t":"2020-03-16T20:49","v":36.34},
      {"t":"2020-03-16T21:17","v":36.59},{"t":"2020-03-16T21:37","v":35.94},{"t":"2020-03-16T22:10","v":35.82},
      {"t":"2020-03-16T22:59","v":35.82},{"t":"2020-03-16T23:31","v":36.06},{"t":"2020-03-16T23:59","v":36.25},
      {"t":"2020-03-17T00:28","v":36.31},{"t":"2020-03-17T01:01","v":36.31},{"t":"2020-03-17T01:21","v":36.38},
      {"t":"2020-03-17T01:41","v":36.43},{"t":"2020-03-17T02:30","v":36.43},{"t":"2020-03-17T02:55","v":36.31},
      {"t":"2020-03-17T03:43","v":36.31},{"t":"2020-03-17T04:04","v":36.38},{"t":"2020-03-17T04:32","v":36.43},
      {"t":"2020-03-17T04:56","v":36.74},{"t":"2020-03-17T05:25","v":37.12},{"t":"2020-03-17T05:53","v":37.12},
      {"t":"2020-03-17T06:06","v":36.75},{"t":"2020-03-17T06:47","v":36.75},{"t":"2020-03-17T07:07","v":37.12},
      {"t":"2020-03-17T07:40","v":37.12},{"t":"2020-03-17T07:56","v":36.81},{"t":"2020-03-17T08:20","v":36.87},
      {"t":"2020-03-17T08:37","v":36.68},{"t":"2020-03-17T09:09","v":36.68},{"t":"2020-03-17T09:29","v":36.81},
      {"t":"2020-03-17T09:50","v":36.81},{"t":"2020-03-17T10:10","v":36.62},{"t":"2020-03-17T10:38","v":36.56},
      {"t":"2020-03-17T11:11","v":36.44},{"t":"2020-03-17T12:00","v":36.44},{"t":"2020-03-17T12:24","v":36.62},
      {"t":"2020-03-17T12:53","v":36.62},{"t":"2020-03-17T13:21","v":36.56},{"t":"2020-03-17T13:53","v":36.56},
      {"t":"2020-03-17T14:14","v":36.81},{"t":"2020-03-17T14:34","v":36.90},{"t":"2020-03-17T14:55","v":36.44},
      {"t":"2020-03-17T15:47","v":36.44},{"t":"2020-03-17T16:04","v":36.74},{"t":"2020-03-17T16:28","v":36.87},
      {"t":"2020-03-17T16:57","v":36.94},{"t":"2020-03-17T17:25","v":36.94},{"t":"2020-03-17T17:46","v":36.62},
      {"t":"2020-03-17T18:06","v":36.94},{"t":"2020-03-17T18:47","v":36.94},{"t":"2020-03-17T19:11","v":36.63},
      {"t":"2020-03-17T19:27","v":36.84},{"t":"2020-03-17T19:52","v":36.50},{"t":"2020-03-17T20:20","v":36.44},
      {"t":"2020-03-17T20:40","v":36.50},{"t":"2020-03-17T21:01","v":36.31},{"t":"2020-03-17T21:20","v":36.52},
      {"t":"2020-03-17T21:40","v":36.52},{"t":"2020-03-17T22:01","v":35.94},{"t":"2020-03-17T22:21","v":35.94},
      {"t":"2020-03-17T22:41","v":36.01},{"t":"2020-03-17T23:02","v":36.08},{"t":"2020-03-17T23:22","v":36.31},
      {"t":"2020-03-17T23:43","v":36.50},{"t":"2020-03-18T00:11","v":36.50},{"t":"2020-03-18T00:35","v":36.43},
      {"t":"2020-03-18T01:04","v":36.50},{"t":"2020-03-18T01:32","v":36.43},{"t":"2020-03-18T02:05","v":36.37},
      {"t":"2020-03-18T02:25","v":36.38},{"t":"2020-03-18T02:46","v":36.56},{"t":"2020-03-18T03:18","v":36.56},
      {"t":"2020-03-18T03:34","v":36.59},{"t":"2020-03-18T03:59","v":36.59},{"t":"2020-03-18T04:07","v":36.50},
      {"t":"2020-03-18T04:27","v":36.43},{"t":"2020-03-18T05:08","v":36.43},{"t":"2020-03-18T05:20","v":36.74},
      {"t":"2020-03-18T05:49","v":37.19},{"t":"2020-03-18T06:09","v":36.87},{"t":"2020-03-18T06:29","v":37.00},
      {"t":"2020-03-18T06:50","v":36.74},{"t":"2020-03-18T07:10","v":36.97},{"t":"2020-03-18T07:30","v":36.74},
      {"t":"2020-03-18T07:50","v":36.74},{"t":"2020-03-18T08:11","v":36.94},{"t":"2020-03-18T08:31","v":36.87},
      {"t":"2020-03-18T08:52","v":36.74},{"t":"2020-03-18T09:12","v":36.62},{"t":"2020-03-18T09:32","v":36.63},
      {"t":"2020-03-18T09:53","v":36.87},{"t":"2020-03-18T10:21","v":36.81},{"t":"2020-03-18T10:46","v":36.94},
      {"t":"2020-03-18T11:14","v":36.94},{"t":"2020-03-18T11:34","v":36.87},{"t":"2020-03-18T11:55","v":36.69},
      {"t":"2020-03-18T12:15","v":36.81},{"t":"2020-03-18T12:47","v":36.81},{"t":"2020-03-18T13:04","v":36.69},
      {"t":"2020-03-18T13:37","v":37.06},{"t":"2020-03-18T13:57","v":37.06},{"t":"2020-03-18T14:17","v":36.94},
      {"t":"2020-03-18T14:37","v":36.69},{"t":"2020-03-18T14:58","v":36.87},{"t":"2020-03-18T15:18","v":36.69},
      {"t":"2020-03-18T15:47","v":36.90},{"t":"2020-03-18T16:11","v":36.69},{"t":"2020-03-18T16:40","v":36.69},
      {"t":"2020-03-18T17:00","v":37.12},{"t":"2020-03-18T17:40","v":37.12},{"t":"2020-03-18T18:01","v":37.06},
      {"t":"2020-03-18T18:21","v":36.81},{"t":"2020-03-18T18:41","v":36.69},{"t":"2020-03-18T19:02","v":36.63},
      {"t":"2020-03-18T19:22","v":36.74},{"t":"2020-03-18T19:50","v":37.34},{"t":"2020-03-18T20:23","v":37.68},
      {"t":"2020-03-18T20:44","v":36.44},{"t":"2020-03-18T21:04","v":36.34},{"t":"2020-03-18T21:28","v":36.12},
      {"t":"2020-03-18T21:57","v":36.25},{"t":"2020-03-18T22:17","v":36.50},{"t":"2020-03-18T22:46","v":36.65},
      {"t":"2020-03-18T23:06","v":36.65},{"t":"2020-03-18T23:26","v":36.56},{"t":"2020-03-18T23:47","v":36.62},
      {"t":"2020-03-19T00:07","v":36.56},{"t":"2020-03-19T00:35","v":36.62},{"t":"2020-03-19T00:47","v":36.50},
      {"t":"2020-03-19T01:28","v":36.50},{"t":"2020-03-19T01:49","v":36.55},{"t":"2020-03-19T02:09","v":36.50},
      {"t":"2020-03-19T03:10","v":36.50},{"t":"2020-03-19T03:31","v":36.55},{"t":"2020-03-19T03:50","v":36.56},
      {"t":"2020-03-19T04:11","v":36.62},{"t":"2020-03-19T04:52","v":36.63},{"t":"2020-03-19T05:12","v":37.05},
      {"t":"2020-03-19T05:44","v":37.31},{"t":"2020-03-19T06:01","v":37.31},{"t":"2020-03-19T06:13","v":36.94},
      {"t":"2020-03-19T06:34","v":36.81},{"t":"2020-03-19T06:54","v":36.81},{"t":"2020-03-19T07:14","v":37.06},
      {"t":"2020-03-19T07:34","v":37.31},{"t":"2020-03-19T07:55","v":37.31},{"t":"2020-03-19T08:15","v":37.24},
      {"t":"2020-03-19T08:35","v":37.11},{"t":"2020-03-19T08:56","v":36.93},{"t":"2020-03-19T09:24","v":36.94},
      {"t":"2020-03-19T09:49","v":36.75},{"t":"2020-03-19T10:17","v":36.75},{"t":"2020-03-19T10:37","v":37.09},
      {"t":"2020-03-19T11:10","v":37.09},{"t":"2020-03-19T11:26","v":36.87},{"t":"2020-03-19T11:50","v":37.00},
      {"t":"2020-03-19T12:07","v":36.87},{"t":"2020-03-19T12:19","v":37.00},{"t":"2020-03-19T12:40","v":36.63},
      {"t":"2020-03-19T13:00","v":36.63},{"t":"2020-03-19T13:20","v":36.90},{"t":"2020-03-19T13:53","v":36.87},
      {"t":"2020-03-19T14:09","v":36.81},{"t":"2020-03-19T14:41","v":36.81},{"t":"2020-03-19T15:14","v":36.81},
      {"t":"2020-03-19T15:31","v":37.00},{"t":"2020-03-19T16:03","v":37.09},{"t":"2020-03-19T16:23","v":37.09},
      {"t":"2020-03-19T16:44","v":36.87},{"t":"2020-03-19T17:04","v":36.81},{"t":"2020-03-19T17:32","v":36.81},
      {"t":"2020-03-19T17:44","v":37.06},{"t":"2020-03-19T18:05","v":37.12},{"t":"2020-03-19T18:25","v":37.05},
      {"t":"2020-03-19T18:37","v":36.63},{"t":"2020-03-19T19:06","v":36.50},{"t":"2020-03-19T19:34","v":36.50},
      {"t":"2020-03-19T19:59","v":36.43},{"t":"2020-03-19T20:15","v":36.37},{"t":"2020-03-19T20:40","v":36.25},
      {"t":"2020-03-19T21:08","v":36.25},{"t":"2020-03-19T21:37","v":36.53},{"t":"2020-03-19T22:01","v":36.25},
      {"t":"2020-03-19T22:17","v":36.12},{"t":"2020-03-19T23:10","v":36.12},{"t":"2020-03-19T23:38","v":36.31},
      {"t":"2020-03-20T00:03","v":36.37},{"t":"2020-03-20T00:31","v":36.41},{"t":"2020-03-20T00:52","v":36.31},
      {"t":"2020-03-20T01:24","v":36.43},{"t":"2020-03-20T01:53","v":36.43},{"t":"2020-03-20T02:13","v":36.46},
      {"t":"2020-03-20T02:34","v":36.46},{"t":"2020-03-20T02:54","v":36.38},{"t":"2020-03-20T03:14","v":36.38},
      {"t":"2020-03-20T03:34","v":36.50},{"t":"2020-03-20T04:07","v":36.56},{"t":"2020-03-20T04:35","v":36.69},
      {"t":"2020-03-20T04:56","v":36.74},{"t":"2020-03-20T05:37","v":36.74},{"t":"2020-03-20T06:09","v":36.81},
      {"t":"2020-03-20T06:50","v":36.81},{"t":"2020-03-20T07:18","v":36.75},{"t":"2020-03-20T07:38","v":36.81},
      {"t":"2020-03-20T07:59","v":36.87},{"t":"2020-03-20T08:19","v":36.94},{"t":"2020-03-20T08:40","v":37.00},
      {"t":"2020-03-20T09:00","v":37.06},{"t":"2020-03-20T09:20","v":37.19},{"t":"2020-03-20T09:41","v":37.74},
      {"t":"2020-03-20T10:13","v":37.74},{"t":"2020-03-20T10:29","v":37.13},{"t":"2020-03-20T10:54","v":36.94},
      {"t":"2020-03-20T11:10","v":37.15},{"t":"2020-03-20T11:34","v":36.75},{"t":"2020-03-20T12:03","v":36.75},
      {"t":"2020-03-20T12:23","v":37.46},{"t":"2020-03-20T12:44","v":37.46},{"t":"2020-03-20T13:04","v":36.94},
      {"t":"2020-03-20T13:25","v":36.94},{"t":"2020-03-20T13:44","v":38.11},{"t":"2020-03-20T14:05","v":38.11},
      {"t":"2020-03-20T14:44","v":37.06},{"t":"2020-03-20T15:05","v":37.06},{"t":"2020-03-20T15:25","v":37.49},
      {"t":"2020-03-20T15:46","v":37.49},{"t":"2020-03-20T16:06","v":36.94},{"t":"2020-03-20T16:18","v":37.11},
      {"t":"2020-03-20T16:34","v":36.86},{"t":"2020-03-20T16:59","v":36.96},{"t":"2020-03-20T17:15","v":36.75},
      {"t":"2020-03-20T17:47","v":36.75},{"t":"2020-03-20T18:08","v":36.96},{"t":"2020-03-20T18:37","v":36.84},
      {"t":"2020-03-20T19:01","v":36.75},{"t":"2020-03-20T19:29","v":36.50},{"t":"2020-03-20T19:58","v":36.50},
      {"t":"2020-03-20T20:31","v":36.65},{"t":"2020-03-20T20:51","v":36.65},{"t":"2020-03-20T21:11","v":36.50},
      {"t":"2020-03-20T21:31","v":36.50},{"t":"2020-03-20T21:52","v":36.68},{"t":"2020-03-20T22:12","v":36.65},
      {"t":"2020-03-20T22:41","v":36.81},{"t":"2020-03-20T22:53","v":36.60},{"t":"2020-03-20T23:13","v":36.30},
      {"t":"2020-03-20T23:34","v":36.25},{"t":"2020-03-21T00:26","v":36.25},{"t":"2020-03-21T00:43","v":36.36},
      {"t":"2020-03-21T01:15","v":36.43},{"t":"2020-03-21T01:35","v":36.49},{"t":"2020-03-21T02:16","v":36.49},
      {"t":"2020-03-21T02:44","v":36.56},{"t":"2020-03-21T03:17","v":36.56},{"t":"2020-03-21T03:38","v":36.50},
      {"t":"2020-03-21T04:18","v":36.50},{"t":"2020-03-21T04:38","v":36.61},{"t":"2020-03-21T05:28","v":36.62},
      {"t":"2020-03-21T05:52","v":36.68},{"t":"2020-03-21T06:20","v":36.76},{"t":"2020-03-21T06:41","v":36.76},
      {"t":"2020-03-21T07:01","v":36.68},{"t":"2020-03-21T07:29","v":36.62},{"t":"2020-03-21T07:54","v":36.56},
      {"t":"2020-03-21T08:34","v":36.56},{"t":"2020-03-21T08:51","v":36.62},{"t":"2020-03-21T09:15","v":37.52},
      {"t":"2020-03-21T09:44","v":37.52},{"t":"2020-03-21T10:04","v":37.04},{"t":"2020-03-21T10:25","v":37.04},
      {"t":"2020-03-21T10:44","v":36.88},{"t":"2020-03-21T11:05","v":37.64},{"t":"2020-03-21T11:25","v":37.59},
      {"t":"2020-03-21T11:46","v":37.67},{"t":"2020-03-21T12:26","v":37.67},{"t":"2020-03-21T12:47","v":37.55},
      {"t":"2020-03-21T12:55","v":37.21},{"t":"2020-03-21T13:19","v":37.21},{"t":"2020-03-21T13:35","v":37.43},
      {"t":"2020-03-21T14:00","v":37.13},{"t":"2020-03-21T14:28","v":37.13},{"t":"2020-03-21T14:41","v":37.90},
      {"t":"2020-03-21T14:57","v":37.90},{"t":"2020-03-21T15:13","v":37.00},{"t":"2020-03-21T15:29","v":37.17},
      {"t":"2020-03-21T15:50","v":36.82},{"t":"2020-03-21T16:18","v":36.82},{"t":"2020-03-21T16:43","v":36.68},
      {"t":"2020-03-21T17:11","v":36.62},{"t":"2020-03-21T17:31","v":36.87},{"t":"2020-03-21T17:52","v":36.82},
      {"t":"2020-03-21T18:12","v":37.14},{"t":"2020-03-21T18:32","v":37.14},{"t":"2020-03-21T18:53","v":36.78},
      {"t":"2020-03-21T19:13","v":36.94},{"t":"2020-03-21T19:34","v":37.06},{"t":"2020-03-21T19:54","v":37.06},
      {"t":"2020-03-21T20:14","v":36.62},{"t":"2020-03-21T20:47","v":36.82},{"t":"2020-03-21T21:15","v":36.81},
      {"t":"2020-03-21T21:35","v":36.32},{"t":"2020-03-21T22:16","v":36.30},{"t":"2020-03-21T22:37","v":36.62},
      {"t":"2020-03-21T23:05","v":36.62},{"t":"2020-03-21T23:29","v":35.93},{"t":"2020-03-22T00:10","v":35.93},
      {"t":"2020-03-22T00:38","v":36.10},{"t":"2020-03-22T00:59","v":36.22},{"t":"2020-03-22T01:31","v":36.30},
      {"t":"2020-03-22T02:00","v":36.36},{"t":"2020-03-22T02:20","v":36.44},{"t":"2020-03-22T02:53","v":36.46},
      {"t":"2020-03-22T03:22","v":36.38},{"t":"2020-03-22T03:50","v":36.46},{"t":"2020-03-22T04:22","v":36.49},
      {"t":"2020-03-22T04:55","v":36.49},{"t":"2020-03-22T05:23","v":36.56},{"t":"2020-03-22T05:52","v":36.57},
      {"t":"2020-03-22T06:16","v":36.62},{"t":"2020-03-22T06:32","v":36.68},{"t":"2020-03-22T07:05","v":36.68},
      {"t":"2020-03-22T07:25","v":36.74},{"t":"2020-03-22T07:54","v":36.75},{"t":"2020-03-22T08:18","v":38.76},
      {"t":"2020-03-22T08:47","v":38.76},{"t":"2020-03-22T09:07","v":37.43},{"t":"2020-03-22T09:28","v":36.84},
      {"t":"2020-03-22T09:56","v":36.88},{"t":"2020-03-22T10:20","v":36.87},{"t":"2020-03-22T10:49","v":37.46},
      {"t":"2020-03-22T11:17","v":37.09},{"t":"2020-03-22T11:41","v":36.87},{"t":"2020-03-22T12:10","v":36.87},
      {"t":"2020-03-22T12:38","v":37.55},{"t":"2020-03-22T13:03","v":37.55},{"t":"2020-03-22T13:19","v":37.24},
      {"t":"2020-03-22T13:44","v":37.24},{"t":"2020-03-22T14:12","v":37.46},{"t":"2020-03-22T14:32","v":37.18},
      {"t":"2020-03-22T14:53","v":37.29},{"t":"2020-03-22T15:13","v":37.00},{"t":"2020-03-22T15:46","v":37.00},
      {"t":"2020-03-22T16:02","v":38.18},{"t":"2020-03-22T16:26","v":38.18},{"t":"2020-03-22T16:43","v":37.30},
      {"t":"2020-03-22T17:07","v":37.15},{"t":"2020-03-22T17:35","v":37.08},{"t":"2020-03-22T17:56","v":36.82},
      {"t":"2020-03-22T18:16","v":36.50},{"t":"2020-03-22T18:37","v":36.87},{"t":"2020-03-22T19:09","v":36.87},
      {"t":"2020-03-22T19:26","v":36.76},{"t":"2020-03-22T19:50","v":36.68},{"t":"2020-03-22T20:19","v":36.62},
      {"t":"2020-03-22T20:39","v":36.62}
    ],
    "smooth": [
      {"t":"2020-02-27T22:52","v":36.766},{"t":"2020-02-28T12:00","v":36.760},{"t":"2020-02-29T00:00","v":36.755},
      {"t":"2020-02-29T12:00","v":36.750},{"t":"2020-03-01T00:00","v":36.745},{"t":"2020-03-01T12:00","v":36.735},
      {"t":"2020-03-02T00:00","v":36.718},{"t":"2020-03-02T12:00","v":36.697},{"t":"2020-03-03T00:00","v":36.676},
      {"t":"2020-03-03T12:00","v":36.658},{"t":"2020-03-04T00:00","v":36.645},{"t":"2020-03-04T08:00","v":36.642},
      {"t":"2020-03-04T16:00","v":36.645},{"t":"2020-03-05T00:00","v":36.656},{"t":"2020-03-05T12:00","v":36.670},
      {"t":"2020-03-06T00:00","v":36.680},{"t":"2020-03-06T08:00","v":36.684},{"t":"2020-03-06T16:00","v":36.682},
      {"t":"2020-03-07T00:00","v":36.670},{"t":"2020-03-07T12:00","v":36.652},{"t":"2020-03-08T00:00","v":36.630},
      {"t":"2020-03-08T12:00","v":36.608},{"t":"2020-03-09T00:00","v":36.590},{"t":"2020-03-09T12:00","v":36.580},
      {"t":"2020-03-10T00:00","v":36.577},{"t":"2020-03-10T12:00","v":36.578},{"t":"2020-03-11T00:00","v":36.584},
      {"t":"2020-03-11T12:00","v":36.591},{"t":"2020-03-12T00:00","v":36.595},{"t":"2020-03-12T12:00","v":36.598},
      {"t":"2020-03-13T00:00","v":36.608},{"t":"2020-03-13T12:00","v":36.625},{"t":"2020-03-14T00:00","v":36.645},
      {"t":"2020-03-14T12:00","v":36.660},{"t":"2020-03-15T00:00","v":36.672},{"t":"2020-03-15T12:00","v":36.678},
      {"t":"2020-03-16T00:00","v":36.678},{"t":"2020-03-16T12:00","v":36.668},{"t":"2020-03-17T00:00","v":36.658},
      {"t":"2020-03-17T12:00","v":36.660},{"t":"2020-03-18T00:00","v":36.668},{"t":"2020-03-18T12:00","v":36.680},
      {"t":"2020-03-19T00:00","v":36.692},{"t":"2020-03-19T12:00","v":36.715},{"t":"2020-03-20T00:00","v":36.740},
      {"t":"2020-03-20T12:00","v":36.762},{"t":"2020-03-21T00:00","v":36.776},{"t":"2020-03-21T12:00","v":36.788},
      {"t":"2020-03-22T00:00","v":36.800},{"t":"2020-03-22T12:00","v":36.810},{"t":"2020-03-22T20:39","v":36.817}
    ]
  },
  "encoding": {
    "x": {
      "field": "t",
      "type": "temporal",
      "title": "Timestamp",
      "scale": {
        "domain": [
          {"year": 2020, "month": 2, "date": 26, "hours": 18, "minutes": 46},
          {"year": 2020, "month": 3, "date": 24, "hours": 0, "minutes": 27}
        ],
        "nice": false
      },
      "axis": {
        "values": [
          {"year": 2020, "month": 2, "date": 29},
          {"year": 2020, "month": 3, "date": 1},
          {"year": 2020, "month": 3, "date": 5},
          {"year": 2020, "month": 3, "date": 9},
          {"year": 2020, "month": 3, "date": 13},
          {"year": 2020, "month": 3, "date": 17},
          {"year": 2020, "month": 3, "date": 21}
        ],
        "format": "%Y-%m-%d",
        "labelAngle": -30,
        "labelAlign": "right",
        "labelBaseline": "top",
        "labelOffset": -30,
        "labelOverlap": false,
        "labelFlush": false,
        "labelLimit": 1000,
        "titleY": 303,
        "titleBaseline": "alphabetic"
      }
    },
    "y": {
      "field": "v",
      "type": "quantitative",
      "title": "Temperature",
      "scale": {"domain": [35.119, 38.946], "nice": false, "zero": false},
      "axis": {
        "values": [35.5, 36, 36.5, 37, 37.5, 38, 38.5],
        "format": ".1f",
        "labelOverlap": false,
        "titleAngle": 270,
        "titleAlign": "center",
        "titleBaseline": "alphabetic",
        "titleX": -181,
        "titleY": 680.5
      }
    }
  },
  "layer": [
    {
      "data": {"name": "raw"},
      "mark": {"type": "line", "strokeWidth": 5, "strokeJoin": "round", "strokeCap": "butt"},
      "encoding": {
        "color": {
          "datum": "Raw Temperature",
          "scale": {
            "domain": ["Raw Temperature", "Smoothed Temperature"],
            "range": ["#79add2", "#ff0000"]
          },
          "legend": {
            "title": null,
            "orient": "top-right",
            "offset": 29,
            "padding": 24,
            "fillColor": "rgba(255,255,255,0.8)",
            "strokeColor": "#cccccc",
            "cornerRadius": 12,
            "labelFontSize": 60,
            "labelColor": "black",
            "labelFont": "DejaVu Sans",
            "labelLimit": 2000,
            "labelOffset": 79,
            "symbolType": "M-1.5,0H1.5",
            "symbolSize": 7225,
            "symbolOffset": 22,
            "symbolStrokeWidth": 1.5,
            "rowPadding": 29,
            "encode": {
              "legend": {
                "update": {
                  "strokeWidth": {"value": 2.4}
                }
              },
              "symbols": {
                "update": {
                  "strokeWidth": {"signal": "datum.value === 'Raw Temperature' ? 5.5 : 8.5"}
                }
              }
            }
          }
        }
      }
    },
    {
      "data": {"name": "smooth"},
      "mark": {"type": "line", "strokeWidth": 8.5, "strokeJoin": "round", "strokeCap": "butt"},
      "encoding": {
        "color": {"datum": "Smoothed Temperature"}
      }
    }
  ],
  "config": {
    "font": "DejaVu Sans",
    "view": {"stroke": "black", "strokeWidth": 2.4},
    "axis": {
      "grid": false,
      "domain": false,
      "ticks": true,
      "tickColor": "black",
      "tickWidth": 2.4,
      "tickSize": 10.5,
      "labelPadding": 10.5,
      "labelFontSize": 60,
      "labelColor": "black",
      "labelFont": "DejaVu Sans",
      "titleFontSize": 60,
      "titleFontWeight": "normal",
      "titleColor": "black",
      "titleFont": "DejaVu Sans"
    }
  }
}
